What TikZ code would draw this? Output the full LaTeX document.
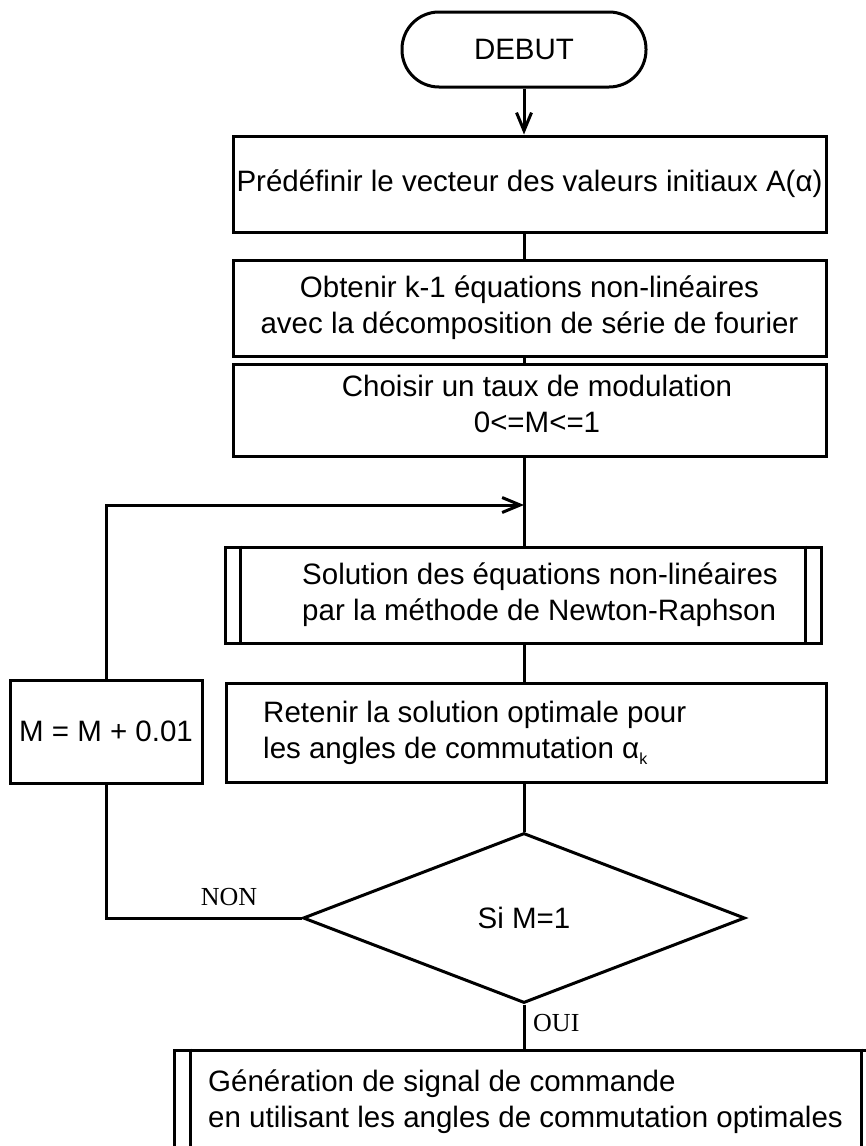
\documentclass[tikz,border=0pt]{standalone}
\usepackage{fontspec}
\setmainfont{Liberation Sans}
\newfontfamily\labelfont{Liberation Serif}
\usetikzlibrary{arrows.meta,shapes.geometric}
\begin{document}
\begin{tikzpicture}[x=1pt,y=-1pt,
    every node/.style={font=\fontsize{29.5}{36}\selectfont},
    box/.style={draw,rectangle,line width=3pt,inner sep=0pt,align=center},
    term/.style={box,rounded corners=37pt,minimum width=244pt,minimum height=75pt},
    test/.style={draw,diamond,line width=3pt,inner sep=0pt,aspect=2.6,
      minimum width=442pt,minimum height=170pt},
    txt/.style={inner sep=0pt,align=left,anchor=west},
    lbl/.style={inner sep=0pt,font=\labelfont\fontsize{26}{30}\selectfont},
    link/.style={line width=3pt},
    arr/.style={link,-{Straight Barb[length=18pt,width=15pt]}}]
  \useasboundingbox (0,0) rectangle (866,1146);
  \clip (0,0) rectangle (866,1146);
  \node[term] (debut) at (524,49.5) {DEBUT};
  \node[box,minimum width=593pt,minimum height=96pt] (init) at (529.5,184)
    {Prédéfinir le vecteur des valeurs initiaux A(α)};
  \node[box,minimum width=593pt,minimum height=96pt] (eqs) at (529.5,308)
    {Obtenir k-1 équations non-linéaires\\avec la décomposition de série de fourier};
  \node[box,minimum width=593pt,minimum height=92pt] (taux) at (529.5,410) {};
  \node[inner sep=0pt,align=center] (tauxtxt) at (537,404)
    {Choisir un taux de modulation\\0<=M<=1};
  \node[box,minimum width=596pt,minimum height=96pt] (solve) at (523,595) {};
  \node[txt] (solvetxt) at (302,595)
    {Solution des équations non-linéaires\\par la méthode de Newton-Raphson};
  \node[box,minimum width=600pt,minimum height=99pt] (keep) at (526,732.5) {};
  \node[txt] (keeptxt) at (263,732.5)
    {Retenir la solution optimale pour\\les angles de commutation α\raisebox{-0.4ex}{\fontsize{16}{16}\selectfont k}};
  \node[box,minimum width=192pt,minimum height=103pt] (incr) at (106,731.5) {M = M + 0.01};
  \node[test] (test) at (524,918) {Si M=1};
  \node[box,minimum width=704pt,minimum height=160pt] (gen) at (526,1130) {};
  \node[txt] (gentxt) at (208,1102)
    {Génération de signal de commande\\en utilisant les angles de commutation optimales};
  \node[lbl] (non) at (229,897) {NON};
  \node[lbl,anchor=west] (oui) at (533,1023) {OUI};
  \coordinate (join) at (524,505);
  \draw[link] ([xshift=17pt]solve.north west) -- ([xshift=17pt]solve.south west);
  \draw[link] ([xshift=-17pt]solve.north east) -- ([xshift=-17pt]solve.south east);
  \draw[link] ([xshift=18pt]gen.north west) -- ([xshift=18pt]gen.south west);
  \draw[link] ([xshift=-18pt]gen.north east) -- ([xshift=-18pt]gen.south east);
  \draw[arr] (debut.south) -- (debut.south |- init.north);
  \draw[link] (init.south -| debut) -- (eqs.north -| debut);
  \draw[link] (eqs.south -| debut) -- (taux.north -| debut);
  \draw[link] (taux.south -| debut) -- (solve.north -| debut);
  \draw[link] (solve.south -| debut) -- (keep.north -| debut);
  \draw[link] (keep.south -| debut) -- (test.north);
  \draw[link] (test.south) -- (test.south |- gen.north);
  \draw[link] (test.west) -| (incr.south);
  \draw[arr] (incr.north) |- (join);
\end{tikzpicture}
\end{document}
